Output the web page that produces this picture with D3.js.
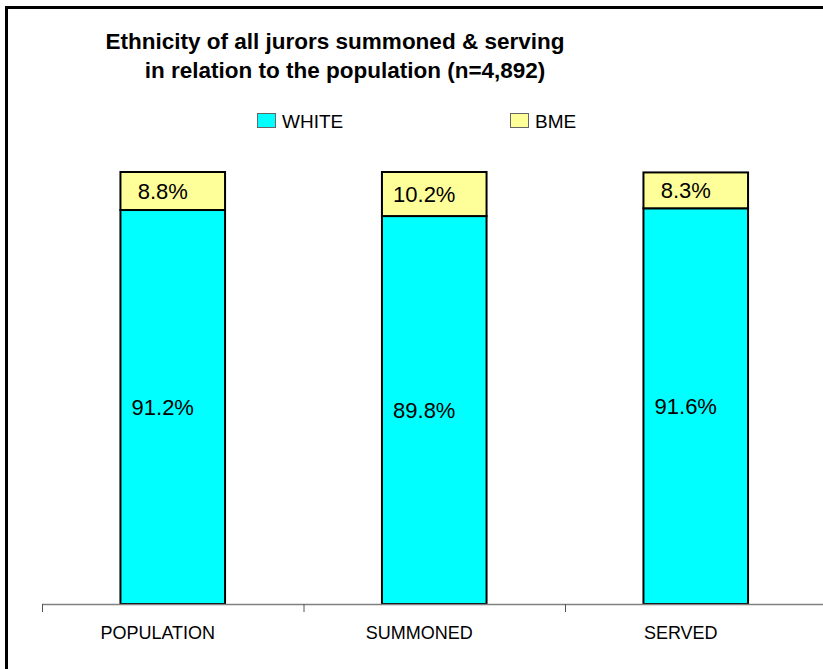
<!DOCTYPE html>
<html>
<head>
<meta charset="utf-8">
<script src="https://cdn.jsdelivr.net/npm/d3@7"></script>
<style>
  html, body { margin: 0; padding: 0; background: #fff; }
  svg { display: block; font-family: "Liberation Sans", Arial, sans-serif; }
</style>
</head>
<body>
<svg id="chart" width="823" height="669"></svg>
<script>
// Share of jurors by ethnicity (per cent, stacked to 100)
const categories = ["POPULATION", "SUMMONED", "SERVED"];
const white = [91.2, 89.8, 91.6];
const bme = [8.8, 10.2, 8.3];
const seriesNames = ["WHITE", "BME"];
const seriesColors = ["#00FFFF", "#FFFF99"];
const titleLines = ["Ethnicity of all jurors summoned & serving", "in relation to the population (n=4,892)"];

const svg = d3.select("#chart");

// Frame around the chart area
svg.append("rect")
  .attr("x", 6.5).attr("y", 7.5)
  .attr("width", 900).attr("height", 900)
  .attr("fill", "none").attr("stroke", "#000").attr("stroke-width", 3);

const axisY = 604;
const x = d3.scaleBand()
  .domain(categories)
  .range([42, 42 + 261.5 * 3])
  .paddingInner(0.6)
  .paddingOuter(0.3);
const y = d3.scaleLinear().domain([0, 100]).range([axisY, 172]);

// Stack the two series
const rows = categories.map((c, i) => ({ cat: c, WHITE: white[i], BME: bme[i] }));
const stacked = d3.stack().keys(seriesNames)(rows);

const layers = svg.append("g").selectAll("g")
  .data(stacked).join("g")
  .attr("fill", (d, i) => seriesColors[i]);

layers.selectAll("rect")
  .data(d => d).join("rect")
  .attr("x", d => x(d.data.cat))
  .attr("y", d => y(d[1]))
  .attr("width", x.bandwidth())
  .attr("height", d => y(d[0]) - y(d[1]))
  .attr("stroke", "#000")
  .attr("stroke-width", 2);

// Value labels centred in each segment
layers.selectAll("text")
  .data(d => d.map(v => ({ v, key: d.key }))).join("text")
  .attr("x", d => x(d.v.data.cat) + x.bandwidth() / 2 - 10)
  .attr("y", d => (y(d.v[0]) + y(d.v[1])) / 2)
  .attr("dy", "0.36em")
  .attr("text-anchor", "middle")
  .attr("fill", "#000")
  .style("font-size", "22px")
  .text(d => d.v.data[d.key].toFixed(1) + "%");

// Category axis with ticks between categories
const axisG = svg.append("g").attr("transform", `translate(0,${axisY})`);
axisG.append("line")
  .attr("x1", x.range()[0]).attr("x2", x.range()[1])
  .attr("y1", 0.5).attr("y2", 0.5)
  .attr("stroke", "#808080").attr("stroke-width", 1.5);
const tickPos = d3.range(categories.length + 1).map(i => x.range()[0] + i * x.step());
axisG.selectAll("line.tick")
  .data(tickPos).join("line")
  .attr("class", "tick")
  .attr("x1", d => d + 0.5).attr("x2", d => d + 0.5)
  .attr("y1", 0).attr("y2", 8)
  .attr("stroke", "#555");
axisG.selectAll("text")
  .data(categories).join("text")
  .attr("x", d => x(d) + x.bandwidth() / 2 - 15)
  .attr("y", 35)
  .attr("text-anchor", "middle")
  .attr("fill", "#000")
  .style("font-size", "18px")
  .text(d => d);

// Title
svg.append("g").selectAll("text")
  .data(titleLines).join("text")
  .attr("x", (d, i) => i === 0 ? 335 : 345)
  .attr("y", (d, i) => 49 + i * 28.5)
  .attr("text-anchor", "middle")
  .attr("font-weight", "bold")
  .style("font-size", "22.5px")
  .attr("fill", "#000")
  .text(d => d);

// Legend
const legendX = [257, 510];
const legend = svg.append("g").selectAll("g")
  .data(seriesNames).join("g")
  .attr("transform", (d, i) => `translate(${legendX[i]},113)`);
legend.append("rect")
  .attr("x", 0.5).attr("y", 0.5)
  .attr("width", 18).attr("height", 14)
  .attr("fill", (d, i) => seriesColors[i])
  .attr("stroke", "#666");
legend.append("text")
  .attr("x", 25).attr("y", 15)
  .style("font-size", "19px")
  .attr("fill", "#000")
  .text(d => d);
</script>
</body>
</html>
